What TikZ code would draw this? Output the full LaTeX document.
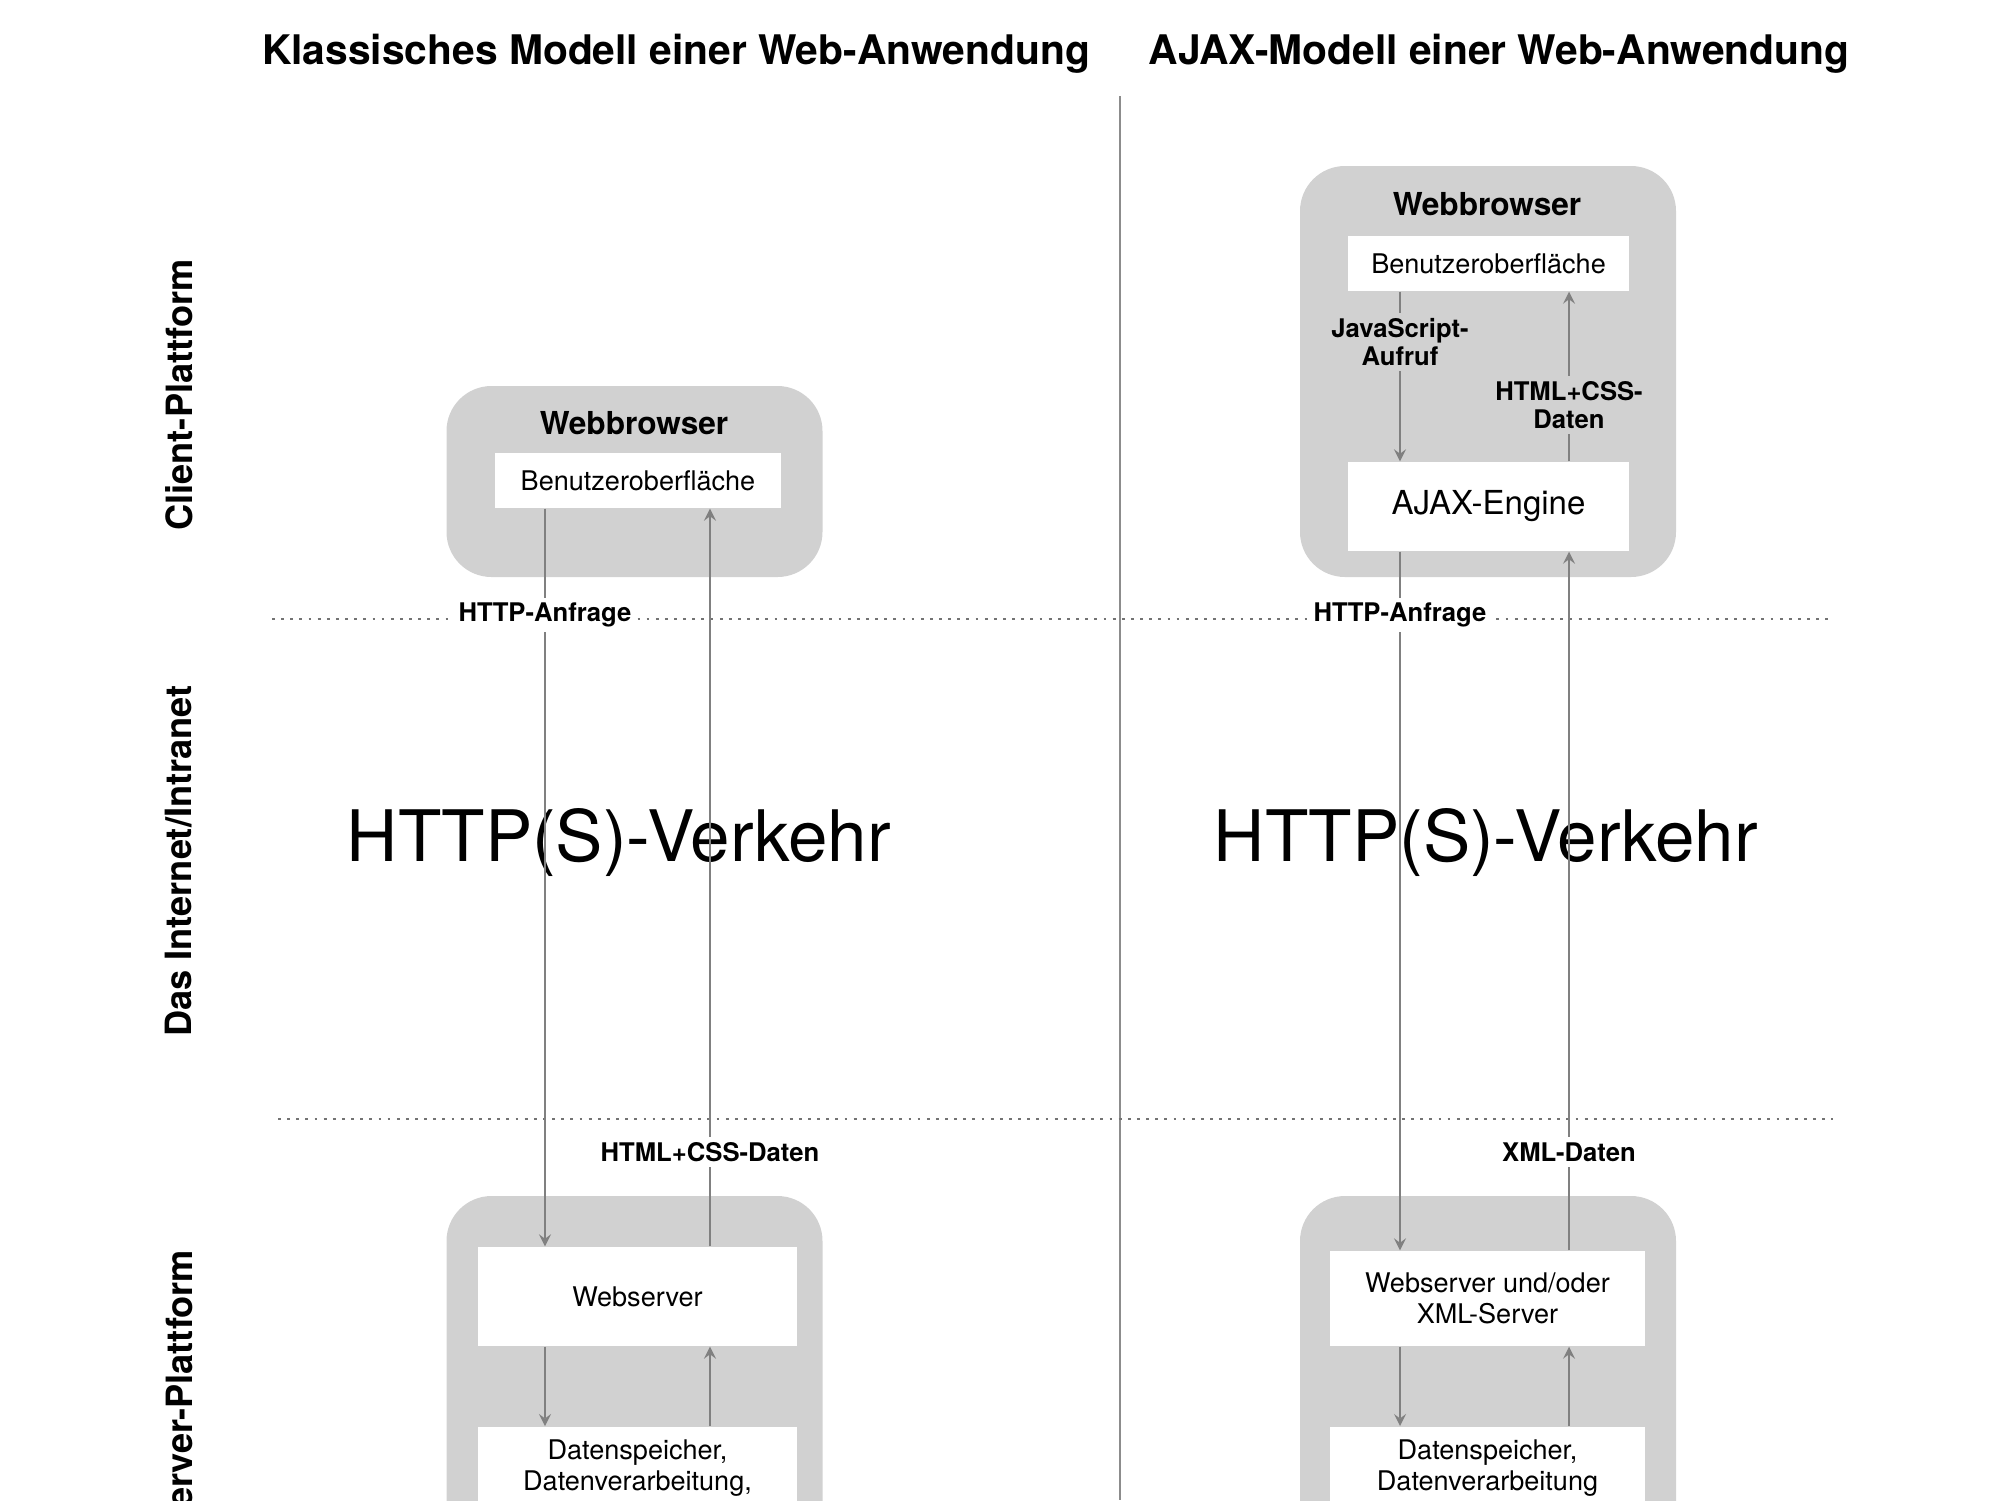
\documentclass[tikz,border=0pt]{standalone}
\usepackage{fontspec}
\setmainfont{TeX Gyre Heros}
\usetikzlibrary{arrows}

\tikzset{
  panel/.style={fill=black!18, rounded corners=4.5mm, minimum width=3.76cm},
  pane/.style={fill=white, inner sep=0pt, align=center, font=\fontsize{7.7}{8.8}\selectfont},
  head/.style={font=\bfseries\fontsize{11.6}{14}\selectfont},
  side/.style={font=\bfseries\fontsize{10.3}{12}\selectfont, rotate=90},
  big/.style={font=\fontsize{20.2}{24}\selectfont},
  boxhead/.style={font=\bfseries\fontsize{9}{10}\selectfont},
  lbl/.style={font=\bfseries\fontsize{7.3}{8}\selectfont, align=center, inner sep=1.5pt},
  flow/.style={-stealth, black!50, line width=0.5pt},
  sep/.style={black!55, line width=0.6pt, dash pattern=on 0.8pt off 1.8pt},
}

\begin{document}
\begin{tikzpicture}
  \useasboundingbox (0,0) rectangle (20,-15);
  \clip (0,0) rectangle (20,-15);

  % headings, rows and separators
  \node[head] (tcl) at (6.76,-0.54) {Klassisches Modell einer Web-Anwendung};
  \node[head] (taj) at (14.99,-0.54) {AJAX-Modell einer Web-Anwendung};
  \node[side] (rowcl) at (1.79,-3.95) {Client-Plattform};
  \node[side] (rownet) at (1.79,-8.61) {Das Internet/Intranet};
  \node[side] (rowsv) at (1.79,-13.91) {Server-Plattform};
  \coordinate (top) at (11.2,-0.96);
  \coordinate (bot) at (11.2,-15);
  \draw[black!45, line width=0.6pt] (top) -- (bot);
  \coordinate (s1w) at (2.72,-6.19);
  \coordinate (s1e) at (18.33,-6.19);
  \coordinate (s2w) at (2.78,-11.19);
  \coordinate (s2e) at (18.33,-11.19);
  \draw[sep] (s1w) -- (s1e);
  \draw[sep] (s2w) -- (s2e);

  % klassisches Modell
  \node[big] (lhttp) at (6.19,-8.42) {HTTP(S)-Verkehr};
  \node[panel, minimum height=1.91cm] (lwb) at (6.345,-4.815) {};
  \node[boxhead] (lwbt) at (6.34,-4.23) {Webbrowser};
  \node[pane, minimum width=2.86cm, minimum height=0.55cm] (lui) at (6.38,-4.805) {Benutzeroberfläche};
  \node[panel, minimum height=5.54cm] (lsrv) at (6.345,-14.73) {};
  \node[pane, minimum width=3.19cm, minimum height=0.99cm] (lws) at (6.375,-12.965) {Webserver};
  \node[pane, minimum width=3.19cm, minimum height=1.6cm, anchor=north] (lds) at (6.375,-14.26) {};
  \node[pane, anchor=north] (ldst) at ([yshift=-1.3mm]lds.north) {Datenspeicher,\\Datenverarbeitung,};
  \coordinate (ldn) at (5.45,0);
  \coordinate (lup) at (7.10,0);
  \path[flow]
    (lui.south -| ldn) edge (lws.north -| ldn)
    (lws.north -| lup) edge (lui.south -| lup)
    (lws.south -| ldn) edge (lds.north -| ldn)
    (lds.north -| lup) edge (lws.south -| lup);
  \node[lbl, fill=white] (lreq) at (5.45,-6.15) {HTTP-Anfrage};
  \node[lbl, fill=white] (ldat) at (7.10,-11.52) {HTML+CSS-Daten};

  % AJAX-Modell
  \node[big] (rhttp) at (14.86,-8.42) {HTTP(S)-Verkehr};
  \node[panel, minimum height=4.11cm] (rwb) at (14.88,-3.715) {};
  \node[boxhead] (rwbt) at (14.87,-2.04) {Webbrowser};
  \node[pane, minimum width=2.81cm, minimum height=0.55cm] (rui) at (14.885,-2.635) {Benutzeroberfläche};
  \node[pane, minimum width=2.81cm, minimum height=0.89cm, font=\fontsize{9.4}{11}\selectfont] (eng) at (14.885,-5.065) {AJAX-Engine};
  \node[panel, minimum height=5.54cm] (rsrv) at (14.88,-14.73) {};
  \node[pane, minimum width=3.15cm, minimum height=0.95cm] (rws) at (14.875,-12.985) {Webserver und/oder\\XML-Server};
  \node[pane, minimum width=3.15cm, minimum height=1.6cm, anchor=north] (rds) at (14.875,-14.26) {};
  \node[pane, anchor=north] (rdst) at ([yshift=-1.3mm]rds.north) {Datenspeicher,\\Datenverarbeitung};
  \coordinate (rdn) at (14.00,0);
  \coordinate (rup) at (15.69,0);
  \path[flow]
    (rui.south -| rdn) edge (eng.north -| rdn)
    (eng.north -| rup) edge (rui.south -| rup)
    (eng.south -| rdn) edge (rws.north -| rdn)
    (rws.north -| rup) edge (eng.south -| rup)
    (rws.south -| rdn) edge (rds.north -| rdn)
    (rds.north -| rup) edge (rws.south -| rup);
  \node[lbl, fill=black!18] (jsc) at (14.00,-3.42) {JavaScript-\\Aufruf};
  \node[lbl, fill=black!18] (rhtml) at (15.69,-4.05) {HTML+CSS-\\Daten};
  \node[lbl, fill=white] (rreq) at (14.00,-6.15) {HTTP-Anfrage};
  \node[lbl, fill=white] (rdat) at (15.69,-11.52) {XML-Daten};
\end{tikzpicture}
\end{document}
